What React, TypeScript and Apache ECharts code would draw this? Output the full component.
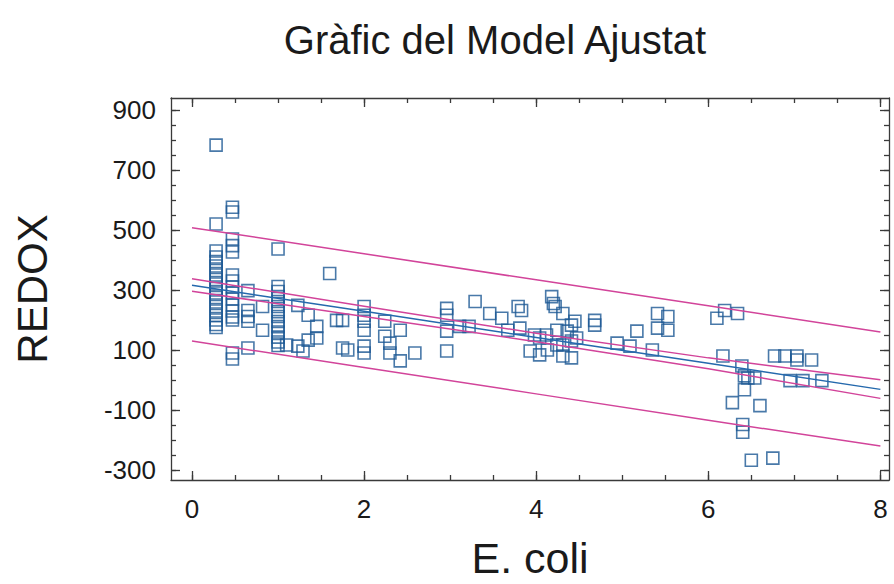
import React, { useEffect, useRef } from "react";
import * as echarts from "echarts";

// E. coli values (x) and the REDOX readings observed at each of them (y)
const ecoliLevels = [
  0.28, 0.47, 0.65, 0.82, 1.0, 1.1, 1.23, 1.29, 1.35, 1.45, 1.6, 1.68, 1.75, 1.81,
  2.0, 2.24, 2.3, 2.42, 2.59, 2.96, 3.11, 3.22, 3.29, 3.46, 3.6, 3.67, 3.79, 3.81,
  3.83, 3.93, 3.98, 4.04, 4.12, 4.13, 4.18, 4.2, 4.22, 4.24, 4.31, 4.36, 4.41, 4.45,
  4.47, 4.68, 4.94, 5.09, 5.17, 5.35, 5.41, 5.53, 6.1, 6.17, 6.19, 6.28, 6.34, 6.39,
  6.4, 6.42, 6.46, 6.5, 6.54, 6.6, 6.75, 6.77, 6.89, 6.95, 7.03, 7.1, 7.2, 7.32,
];
const redoxAtLevel = [
  [783, 520, 430, 410, 395, 380, 365, 350, 335, 320, 305, 290, 275, 260, 245, 230, 215, 200, 185, 175],
  [576, 560, 470, 448, 427, 350, 330, 310, 290, 270, 250, 230, 210, 200, 90, 70],
  [298, 232, 212, 196, 107],
  [245, 166],
  [437, 312, 295, 278, 262, 245, 228, 212, 195, 178, 160, 143, 127, 115],
  [117],
  [249, 113],
  [97],
  [216, 133],
  [179, 140],
  [355],
  [199],
  [199, 107],
  [100],
  [245, 216, 196, 166, 113, 90],
  [196, 146],
  [123, 90],
  [166, 64],
  [90],
  [239, 216, 163, 97],
  [179],
  [179],
  [262],
  [222],
  [206],
  [166],
  [245],
  [173],
  [232],
  [97],
  [150],
  [140, 84],
  [150],
  [100],
  [278],
  [255],
  [245],
  [166, 117],
  [222, 117, 80],
  [163],
  [183, 130, 74],
  [196],
  [140],
  [199, 183],
  [123],
  [113],
  [163],
  [100],
  [222, 173],
  [212, 166],
  [206],
  [80],
  [232],
  [-75],
  [222],
  [47],
  [-148, -174],
  [14, -32],
  [7],
  [-267],
  [7],
  [-85],
  [-260],
  [80],
  [80],
  [-2],
  [80, 67],
  [-2],
  [67],
  [-2],
];

// fitted model and bands, read at these E. coli values
const lineX = [0, 2, 4, 6, 8];
const fitted = [316, 229, 142, 56, -31];
const confUpper = [338, 246, 156, 74, 1];
const confLower = [296, 212, 128, 38, -61];
const predUpper = [508, 421, 334, 248, 160];
const predLower = [130, 42, -46, -134, -220];

// axis ticks and labels
const xLabelValues = [0, 2, 4, 6, 8];
const xMinorTicks = [0, 0.5, 1, 1.5, 2, 2.5, 3, 3.5, 4, 4.5, 5, 5.5, 6, 6.5, 7, 7.5, 8];
const yLabelValues = [-300, -100, 100, 300, 500, 700, 900];
const yMinorTicks = [
  -300, -250, -200, -150, -100, -50, 0, 50, 100, 150, 200, 250, 300, 350, 400, 450,
  500, 550, 600, 650, 700, 750, 800, 850, 900,
];

const X_MIN = -0.244;
const X_MAX = 8.1;
const Y_MIN = -333;
const Y_MAX = 940;

const FONT = "Liberation Sans, Arial, sans-serif";
const AXIS_COLOR = "#3a3a3a";
const MAGENTA = "#d2449a";
const FIT_BLUE = "#2569ad";
const MARK_BLUE = "#1b5793";

export default function App() {
  const ref = useRef<HTMLDivElement>(null);

  useEffect(() => {
    if (!ref.current) return;
    const chart = echarts.init(ref.current, undefined, { renderer: "svg" });

    const points: number[][] = [];
    ecoliLevels.forEach((x, i) => {
      (redoxAtLevel[i] || []).forEach((y) => points.push([x, y]));
    });
    const pairs = (ys: number[]) => lineX.map((x, i) => [x, ys[i]]);

    const baseX = (extra: any) => ({
      type: "value",
      min: X_MIN,
      max: X_MAX,
      splitLine: { show: false },
      ...extra,
    });
    const baseY = (extra: any) => ({
      type: "value",
      min: Y_MIN,
      max: Y_MAX,
      splitLine: { show: false },
      ...extra,
    });
    const lineStyle = { color: AXIS_COLOR, width: 1.3 };
    const hiddenLine = { show: false, onZero: false };

    const lineSeries = (name: string, ys: number[], color: string) => ({
      name,
      type: "line",
      data: pairs(ys),
      showSymbol: false,
      symbol: "none",
      lineStyle: { color, width: 1.5 },
      z: 3,
      silent: true,
    });

    chart.setOption({
      animation: false,
      backgroundColor: "#ffffff",
      title: {
        text: "Gràfic del Model Ajustat",
        left: 490,
        textAlign: "center",
        top: 15,
        textStyle: { fontFamily: FONT, fontSize: 40, fontWeight: "normal", color: "#1a1a1a" },
      },
      grid: { left: 171, right: 5, top: 98, bottom: 101, containLabel: false },
      xAxis: [
        baseX({
          position: "bottom",
          name: "E. coli",
          nameLocation: "middle",
          nameGap: 56,
          nameTextStyle: { fontFamily: FONT, fontSize: 43, color: "#1a1a1a", verticalAlign: "top" },
          axisLine: { show: true, onZero: false, lineStyle },
          axisTick: { show: true, inside: true, length: 9, customValues: xLabelValues, lineStyle },
          axisLabel: {
            show: true,
            customValues: xLabelValues,
            margin: 16,
            fontFamily: FONT,
            fontSize: 26,
            color: "#1a1a1a",
          },
        }),
        baseX({
          position: "bottom",
          axisLine: hiddenLine,
          axisTick: { show: true, inside: true, length: 5, customValues: xMinorTicks, lineStyle },
          axisLabel: { show: false },
        }),
        baseX({
          position: "top",
          axisLine: { show: true, onZero: false, lineStyle },
          axisTick: { show: true, inside: true, length: 9, customValues: xLabelValues, lineStyle },
          axisLabel: { show: false },
        }),
        baseX({
          position: "top",
          axisLine: hiddenLine,
          axisTick: { show: true, inside: true, length: 5, customValues: xMinorTicks, lineStyle },
          axisLabel: { show: false },
        }),
      ],
      yAxis: [
        baseY({
          position: "left",
          name: "REDOX",
          nameLocation: "middle",
          nameGap: 118,
          nameRotate: 90,
          nameTextStyle: { fontFamily: FONT, fontSize: 42, color: "#1a1a1a" },
          axisLine: { show: true, onZero: false, lineStyle },
          axisTick: { show: true, inside: true, length: 9, customValues: yLabelValues, lineStyle },
          axisLabel: {
            show: true,
            customValues: yLabelValues,
            margin: 15,
            fontFamily: FONT,
            fontSize: 26,
            color: "#1a1a1a",
          },
        }),
        baseY({
          position: "left",
          axisLine: hiddenLine,
          axisTick: { show: true, inside: true, length: 5, customValues: yMinorTicks, lineStyle },
          axisLabel: { show: false },
        }),
        baseY({
          position: "right",
          axisLine: { show: true, onZero: false, lineStyle },
          axisTick: { show: true, inside: true, length: 9, customValues: yLabelValues, lineStyle },
          axisLabel: { show: false },
        }),
        baseY({
          position: "right",
          axisLine: hiddenLine,
          axisTick: { show: true, inside: true, length: 5, customValues: yMinorTicks, lineStyle },
          axisLabel: { show: false },
        }),
      ],
      series: [
        {
          name: "REDOX",
          type: "scatter",
          data: points,
          symbol: "rect",
          symbolSize: 12,
          itemStyle: { color: "rgba(255,255,255,0)", borderColor: MARK_BLUE, borderWidth: 1.6 },
          z: 2,
        },
        lineSeries("Prediction upper", predUpper, MAGENTA),
        lineSeries("Prediction lower", predLower, MAGENTA),
        lineSeries("Confidence upper", confUpper, MAGENTA),
        lineSeries("Confidence lower", confLower, MAGENTA),
        lineSeries("Fitted", fitted, FIT_BLUE),
      ],
    });

    return () => chart.dispose();
  }, []);

  return (
    <div
      ref={ref}
      style={{ position: "fixed", left: 0, top: 0, width: 894, height: 584, background: "#fff" }}
    />
  );
}
